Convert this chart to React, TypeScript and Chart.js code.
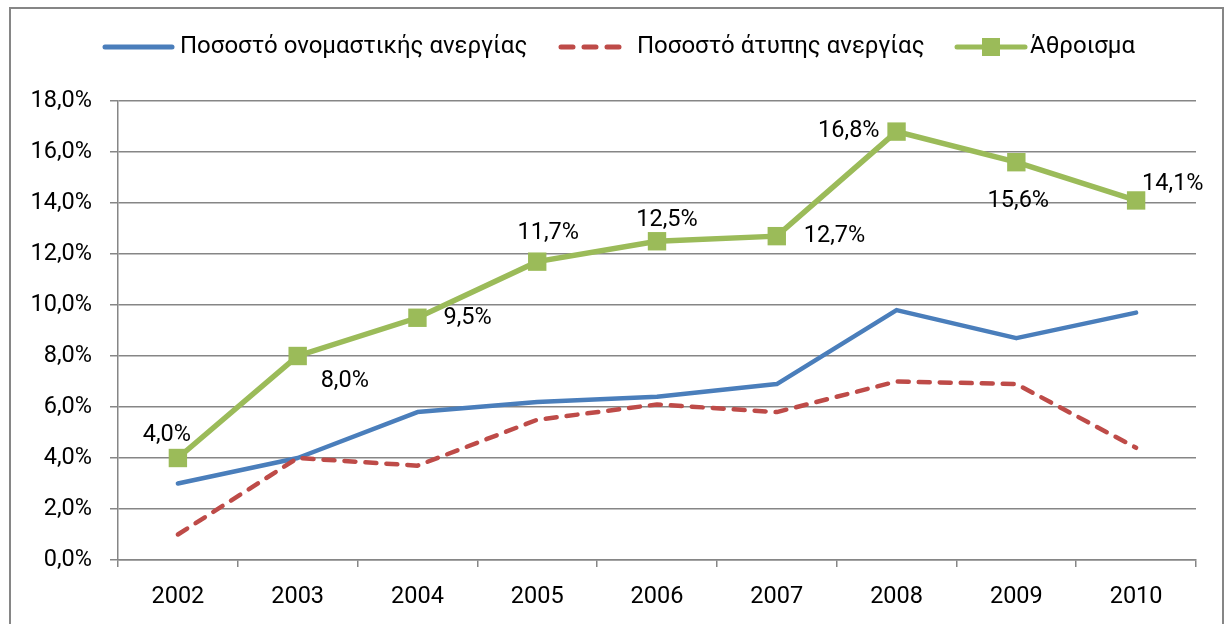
import React, { useEffect, useRef } from 'react';
import { Chart, registerables } from 'chart.js';

Chart.register(...registerables);

const years = ['2002', '2003', '2004', '2005', '2006', '2007', '2008', '2009', '2010'];
const nominalRate = [3.0, 4.0, 5.8, 6.2, 6.4, 6.9, 9.8, 8.7, 9.7];
const atypicalRate = [1.0, 4.0, 3.7, 5.5, 6.1, 5.8, 7.0, 6.9, 4.4];
const totalRate = [4.0, 8.0, 9.5, 11.7, 12.5, 12.7, 16.8, 15.6, 14.1];
const seriesNames = ['Ποσοστό ονομαστικής ανεργίας', 'Ποσοστό άτυπης ανεργίας', 'Άθροισμα'];

// label placement style for the total series: [dx, dy, align]
const totalLabelPlacement: [number, number, CanvasTextAlign][] = [
  [-11, -23, 'center'],
  [23, 25, 'left'],
  [26, 0, 'left'],
  [11, -29, 'center'],
  [10, -21, 'center'],
  [27, 0, 'left'],
  [-17, 0, 'right'],
  [2, 39, 'center'],
  [6, -16, 'left'],
];

const BLUE = '#4A7EBB';
const RED = '#BE4B48';
const GREEN = '#9BBB59';
const GRID = '#868686';
const FONT_FAMILY = 'Roboto';
const FONT_SIZE = 23.5;
const LEGEND_FONT_SIZE = 24;

const fmt = (v: number) => v.toFixed(1).replace('.', ',') + '%';

const legendPlugin = {
  id: 'customLegend',
  afterDraw(chart: any) {
    const ctx = chart.ctx as CanvasRenderingContext2D;
    const y = 47;
    ctx.save();
    ctx.lineCap = 'round';
    // blue solid
    ctx.strokeStyle = BLUE;
    ctx.lineWidth = 5;
    ctx.beginPath();
    ctx.moveTo(105, y);
    ctx.lineTo(172, y);
    ctx.stroke();
    // red dashed
    ctx.strokeStyle = RED;
    ctx.setLineDash([12, 11]);
    ctx.beginPath();
    ctx.moveTo(561, y);
    ctx.lineTo(620, y);
    ctx.stroke();
    ctx.setLineDash([]);
    // green with square
    ctx.strokeStyle = GREEN;
    ctx.beginPath();
    ctx.moveTo(957, y);
    ctx.lineTo(1025, y);
    ctx.stroke();
    ctx.fillStyle = GREEN;
    ctx.fillRect(982, y - 9, 18, 18);
    // texts
    ctx.fillStyle = '#000';
    ctx.font = `${LEGEND_FONT_SIZE}px ${FONT_FAMILY}`;
    ctx.textBaseline = 'middle';
    ctx.textAlign = 'left';
    ctx.fillText(seriesNames[0], 180, y);
    ctx.fillText(seriesNames[1], 637, y);
    ctx.fillText(seriesNames[2], 1030, y);
    ctx.restore();
  },
};

const dataLabelPlugin = {
  id: 'totalLabels',
  afterDatasetsDraw(chart: any) {
    const ctx = chart.ctx as CanvasRenderingContext2D;
    const meta = chart.getDatasetMeta(2);
    ctx.save();
    ctx.fillStyle = '#000';
    ctx.font = `${FONT_SIZE}px ${FONT_FAMILY}`;
    ctx.textBaseline = 'middle';
    meta.data.forEach((pt: any, i: number) => {
      const [dx, dy, align] = totalLabelPlacement[i];
      ctx.textAlign = align;
      ctx.fillText(fmt(totalRate[i]), pt.x + dx, pt.y + dy);
    });
    ctx.restore();
  },
};

export default function App() {
  const canvasRef = useRef<HTMLCanvasElement | null>(null);

  useEffect(() => {
    if (!canvasRef.current) return;
    const font = { family: FONT_FAMILY, size: FONT_SIZE };
    const chart = new Chart(canvasRef.current, {
      type: 'line',
      data: {
        labels: years,
        datasets: [
          {
            label: seriesNames[0],
            data: nominalRate,
            borderColor: BLUE,
            backgroundColor: BLUE,
            borderWidth: 4.5,
            pointRadius: 0,
            borderCapStyle: 'round',
            borderJoinStyle: 'round',
            order: 3,
          },
          {
            label: seriesNames[1],
            data: atypicalRate,
            borderColor: RED,
            backgroundColor: RED,
            borderWidth: 4.5,
            borderDash: [11, 10],
            borderCapStyle: 'round',
            borderJoinStyle: 'round',
            pointRadius: 0,
            order: 2,
          },
          {
            label: seriesNames[2],
            data: totalRate,
            borderColor: GREEN,
            backgroundColor: GREEN,
            borderWidth: 5.5,
            pointStyle: 'rect',
            pointRadius: 13,
            pointBorderWidth: 0,
            pointBackgroundColor: GREEN,
            order: 1,
          },
        ],
      },
      options: {
        responsive: false,
        animation: false,
        devicePixelRatio: 1,
        layout: { padding: { top: 101, right: 30, left: 0, bottom: 0 } },
        plugins: {
          legend: { display: false },
          tooltip: { enabled: false },
        },
        scales: {
          x: {
            type: 'category',
            offset: true,
            grid: {
              display: true,
              drawOnChartArea: false,
              drawTicks: true,
              tickLength: 7,
              color: GRID,
              lineWidth: 1.5,
              offset: true,
            },
            border: { display: true, color: GRID, width: 1.5 },
            ticks: { color: '#000', font, padding: 16, maxRotation: 0, autoSkip: false },
            afterFit: (s: any) => {
              s.height = 64;
            },
          },
          y: {
            min: 0,
            max: 18,
            ticks: { stepSize: 2, callback: (v: any) => fmt(Number(v)), color: '#000', font, padding: 18 },
            grid: { color: GRID, lineWidth: 1.5, tickLength: 8, drawTicks: true },
            border: { display: true, color: GRID, width: 1.5 },
            afterFit: (s: any) => {
              s.width = 118;
            },
          },
        },
      },
      plugins: [legendPlugin, dataLabelPlugin],
    });
    return () => chart.destroy();
  }, []);

  return (
    <div style={{ position: 'absolute', left: 0, top: 0, width: 1226, height: 624, overflow: 'hidden', background: '#fff' }}>
      <div
        style={{
          position: 'absolute',
          left: 9,
          top: 7,
          width: 1215,
          height: 700,
          border: `2px solid ${GRID}`,
          boxSizing: 'border-box',
        }}
      />
      <canvas ref={canvasRef} width={1226} height={624} style={{ position: 'absolute', left: 0, top: 0 }} />
    </div>
  );
}
